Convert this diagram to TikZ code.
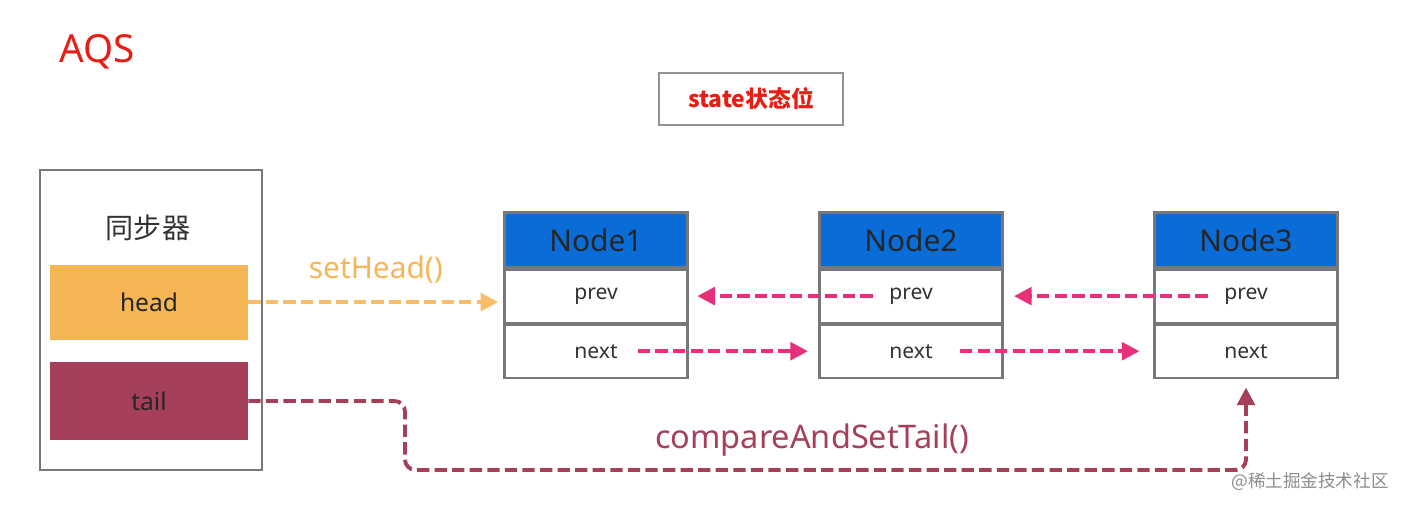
\documentclass[tikz,border=0pt]{standalone}
\usepackage{fontspec}
\setmainfont{Noto Sans}
\newfontfamily\cjk{Noto Sans CJK SC}
\usetikzlibrary{positioning,arrows.meta}

\definecolor{nodeblue}{RGB}{10,108,214}
\definecolor{headorange}{RGB}{246,182,86}
\definecolor{tailred}{RGB}{166,64,90}
\definecolor{linkpink}{RGB}{232,48,122}
\definecolor{titlered}{RGB}{232,30,20}
\definecolor{sketch}{RGB}{120,120,120}

\begin{document}
\begin{tikzpicture}[
    x=0.02cm, y=-0.02cm,
    sketchbox/.style={rectangle, draw=sketch, line width=1.2pt, inner sep=0pt},
    hdr/.style={sketchbox, fill=nodeblue, minimum width=3.66cm, minimum height=1.1cm,
                font=\fontsize{17}{20}\selectfont, text=black!85},
    field/.style={sketchbox, fill=white, minimum width=3.66cm, minimum height=1.06cm},
    fieldtext/.style={font=\fontsize{12}{14}\selectfont, text=black!80},
    bar/.style={rectangle, minimum width=3.96cm, inner sep=0pt,
                font=\fontsize{14}{16}\selectfont, text=black!85},
    link/.style={-{Triangle[length=10pt,width=10pt]}, linkpink, line width=2.2pt,
                 dash pattern=on 7pt off 3pt},
]
\useasboundingbox (0,0) rectangle (1406,508);

% Titolo
\node[font=\fontsize{22}{26}\selectfont, text=titlered] (aqs) at (97,52) {AQS};

% Stato
\node[sketchbox, draw=sketch!80, minimum width=3.68cm, minimum height=1.04cm,
      font=\cjk\bfseries\fontsize{13}{15}\selectfont, text=titlered] (state) at (751,99) {state状态位};

% Sincronizzatore
\node[sketchbox, minimum width=4.44cm, minimum height=6cm] (sync) at (151,320) {};
\node[font=\cjk\fontsize{16}{18}\selectfont, text=black!80] (synct) at (148,228) {同步器};
\node[bar, fill=headorange, minimum height=1.5cm] (head) at (149,302) {head};
\node[bar, fill=tailred, minimum height=1.56cm] (tail) at (149,401) {tail};

% Nodi della coda
\node[hdr] (n1) at (596,240) {Node1};
\node[hdr] (n2) at (911,240) {Node2};
\node[hdr] (n3) at (1246,240) {Node3};
\foreach \i in {1,2,3} {
    \node[field, below=0pt of n\i] (p\i) {};
    \node[field, below=0pt of p\i] (q\i) {};
    \node[fieldtext] (p\i t) at (p\i) {prev};
    \node[fieldtext] (q\i t) at (q\i) {next};
}

% Collegamenti prev / next
\draw[link, shorten >=5pt] ([xshift=-6pt]p2t.west) -- (p1.east);
\draw[link, shorten >=6pt] ([xshift=-6pt]p3t.west) -- (p2.east);
\draw[link, shorten >=6pt] ([xshift=8pt]q1t.east) -- (q2.west);
\draw[link, shorten >=8pt] ([xshift=12pt]q2t.east) -- (q3.west);

% setHead()
\draw[-{Triangle[length=10pt,width=10pt]}, headorange!90, line width=2.2pt,
      dash pattern=on 7pt off 3pt, shorten >=3pt] (head.east) -- (head.east -| p1.west)
    node[midway, above=6pt, font=\fontsize{17}{20}\selectfont, text=headorange] (sethead) {setHead()};

% compareAndSetTail()
\coordinate (bend) at (405,470);
\draw[-{Triangle[length=10pt,width=10pt]}, tailred, line width=2.2pt,
      dash pattern=on 7pt off 3pt, rounded corners=6pt, shorten >=5pt]
    (tail.east) -| (bend) -| (q3.south);
\node[font=\fontsize{18.5}{22}\selectfont, text=tailred] (cas) at (812,440) {compareAndSetTail()};

% Watermark
\node[font=\cjk\fontsize{10}{12}\selectfont, text=black!45] (mark) at (1310,482) {@稀土掘金技术社区};

\end{tikzpicture}
\end{document}
